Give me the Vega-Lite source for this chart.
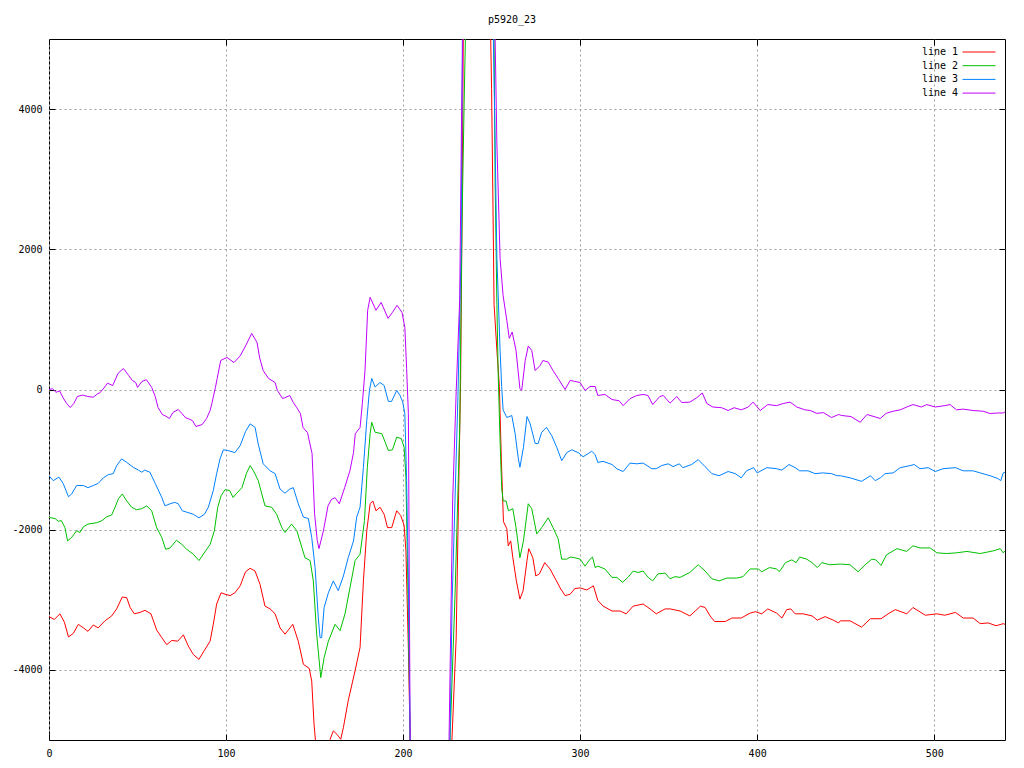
{
"$schema": "https://vega.github.io/schema/vega-lite/v6.json",
"width": 956, "height": 701,
"autosize": "none",
"padding": {"left": 49, "top": 39, "right": 19, "bottom": 28},
"background": "white",
"title": {"text": "p5920_23", "anchor": "middle", "offset": 14, "fontSize": 10, "font": "DejaVu Sans Mono", "fontWeight": "normal", "dx": -15, "color": "black"},
"config": {"view": {"stroke": "black", "strokeWidth": 1}, "font": "DejaVu Sans Mono"},
"datasets": {
"d4": [{"x":0,"y":0},{"x":2,"y":10},{"x":4,"y":-40},{"x":6,"y":-20},{"x":8,"y":-120},{"x":10,"y":-200},{"x":12,"y":-257},{"x":14,"y":-200},{"x":16,"y":-100},{"x":19,"y":-80},{"x":22,"y":-100},{"x":25,"y":-110},{"x":27,"y":-70},{"x":29,"y":-40},{"x":31,"y":20},{"x":33,"y":90},{"x":36,"y":57},{"x":39,"y":230},{"x":42,"y":300},{"x":45,"y":200},{"x":47,"y":130},{"x":49,"y":100},{"x":50,"y":30},{"x":52.5,"y":115},{"x":55,"y":140},{"x":58,"y":30},{"x":60,"y":-100},{"x":61.6,"y":-257},{"x":64,"y":-357},{"x":66,"y":-380},{"x":68,"y":-414},{"x":70,"y":-328},{"x":73,"y":-285},{"x":75,"y":-340},{"x":77,"y":-400},{"x":79,"y":-420},{"x":81,"y":-443},{"x":83,"y":-528},{"x":86.5,"y":-500},{"x":89,"y":-414},{"x":91,"y":-300},{"x":92,"y":-200},{"x":94,"y":30},{"x":95,"y":157},{"x":97,"y":414},{"x":100.5,"y":457},{"x":104.5,"y":385},{"x":108,"y":480},{"x":111,"y":620},{"x":114.5,"y":800},{"x":117.5,"y":670},{"x":119,"y":450},{"x":121,"y":270},{"x":124,"y":157},{"x":127.7,"y":100},{"x":129,"y":-14},{"x":132,"y":-130},{"x":136,"y":-86},{"x":138,"y":-186},{"x":140,"y":-260},{"x":142,"y":-343},{"x":143.5,"y":-543},{"x":146,"y":-614},{"x":148.6,"y":-914},{"x":150,"y":-1770},{"x":151.5,"y":-2150},{"x":152.5,"y":-2270},{"x":155,"y":-2015},{"x":157.6,"y":-1660},{"x":159.5,"y":-1570},{"x":161.6,"y":-1543},{"x":164,"y":-1630},{"x":167,"y":-1400},{"x":170,"y":-1157},{"x":172,"y":-900},{"x":173,"y":-630},{"x":175.7,"y":-543},{"x":177,"y":-200},{"x":178.5,"y":270},{"x":180,"y":1130},{"x":181.4,"y":1315},{"x":184.7,"y":1130},{"x":187.6,"y":1243},{"x":191.5,"y":1015},{"x":194,"y":1100},{"x":196.6,"y":1200},{"x":199.4,"y":1100},{"x":201,"y":886},{"x":202,"y":300},{"x":203,"y":-343},{"x":204,"y":-5000},{"x":205,"y":-8000},{"x":225,"y":-8000},{"x":226,"y":-4950},{"x":228,"y":-1590},{"x":230,"y":-30},{"x":232,"y":1290},{"x":233,"y":3830},{"x":234,"y":5500},{"x":236,"y":8000},{"x":248,"y":8000},{"x":252,"y":5000},{"x":253,"y":3500},{"x":254.8,"y":1870},{"x":256.5,"y":1340},{"x":258.6,"y":985},{"x":260,"y":730},{"x":261.6,"y":820},{"x":263.8,"y":557},{"x":266,"y":14},{"x":267,"y":-14},{"x":269,"y":414},{"x":270.7,"y":620},{"x":272.7,"y":557},{"x":274.6,"y":270},{"x":277.4,"y":343},{"x":279,"y":414},{"x":282,"y":390},{"x":284.7,"y":270},{"x":287.6,"y":157},{"x":291.5,"y":0},{"x":294.4,"y":130},{"x":297,"y":115},{"x":300,"y":100},{"x":302.8,"y":-14},{"x":305.6,"y":43},{"x":308.5,"y":43},{"x":310,"y":-86},{"x":314,"y":-70},{"x":318,"y":-143},{"x":322,"y":-160},{"x":324.3,"y":-230},{"x":328.2,"y":-130},{"x":332,"y":-86},{"x":335.6,"y":-70},{"x":338.4,"y":-86},{"x":341,"y":-215},{"x":345,"y":-100},{"x":347,"y":-86},{"x":350.8,"y":-195},{"x":354.6,"y":-100},{"x":357.4,"y":-186},{"x":362,"y":-180},{"x":366,"y":-115},{"x":369,"y":-50},{"x":371.6,"y":-200},{"x":375,"y":-250},{"x":380,"y":-260},{"x":383.6,"y":-300},{"x":387,"y":-260},{"x":391,"y":-290},{"x":395,"y":-250},{"x":397.7,"y":-180},{"x":401.7,"y":-300},{"x":406,"y":-215},{"x":411,"y":-230},{"x":414.7,"y":-200},{"x":418.6,"y":-180},{"x":422.4,"y":-250},{"x":427,"y":-290},{"x":430,"y":-300},{"x":433.7,"y":-340},{"x":437.5,"y":-330},{"x":442,"y":-400},{"x":446,"y":-357},{"x":447.8,"y":-371},{"x":453,"y":-386},{"x":458.2,"y":-467},{"x":462,"y":-357},{"x":466,"y":-386},{"x":469.5,"y":-414},{"x":472.9,"y":-340},{"x":476.8,"y":-310},{"x":480.8,"y":-290},{"x":484.5,"y":-250},{"x":488,"y":-215},{"x":492.8,"y":-250},{"x":495.8,"y":-215},{"x":500.6,"y":-250},{"x":506,"y":-230},{"x":509,"y":-215},{"x":512.6,"y":-290},{"x":516.4,"y":-280},{"x":522,"y":-300},{"x":527.7,"y":-310},{"x":531.6,"y":-343},{"x":536,"y":-335},{"x":539,"y":-335},{"x":540,"y":-320}],
"d3": [{"x":0,"y":-1230},{"x":2.4,"y":-1300},{"x":5.6,"y":-1250},{"x":8,"y":-1340},{"x":11,"y":-1530},{"x":12.8,"y":-1490},{"x":15.6,"y":-1370},{"x":19.4,"y":-1370},{"x":22,"y":-1400},{"x":25,"y":-1370},{"x":27.8,"y":-1340},{"x":30.7,"y":-1260},{"x":33.5,"y":-1215},{"x":36.3,"y":-1200},{"x":38.2,"y":-1086},{"x":41,"y":-990},{"x":43.9,"y":-1040},{"x":47.6,"y":-1110},{"x":50.5,"y":-1150},{"x":52.4,"y":-1180},{"x":54,"y":-1150},{"x":57,"y":-1180},{"x":60,"y":-1340},{"x":63.7,"y":-1540},{"x":65.5,"y":-1660},{"x":68.4,"y":-1630},{"x":71,"y":-1610},{"x":73,"y":-1630},{"x":75.3,"y":-1730},{"x":77.8,"y":-1750},{"x":81.5,"y":-1780},{"x":84.7,"y":-1830},{"x":87.8,"y":-1780},{"x":90,"y":-1680},{"x":92.8,"y":-1440},{"x":94.7,"y":-1200},{"x":96.6,"y":-990},{"x":98.5,"y":-860},{"x":101,"y":-870},{"x":105,"y":-900},{"x":108,"y":-800},{"x":111,"y":-600},{"x":113.6,"y":-490},{"x":116.4,"y":-540},{"x":118.2,"y":-780},{"x":121,"y":-1060},{"x":124.9,"y":-1160},{"x":127.7,"y":-1200},{"x":130.5,"y":-1420},{"x":133.3,"y":-1480},{"x":136,"y":-1420},{"x":138,"y":-1400},{"x":140.8,"y":-1630},{"x":143.7,"y":-1820},{"x":146.5,"y":-1840},{"x":148.4,"y":-2110},{"x":150.3,"y":-2540},{"x":152.1,"y":-3250},{"x":153.1,"y":-3540},{"x":154,"y":-3540},{"x":155.4,"y":-3110},{"x":157.8,"y":-2900},{"x":160.6,"y":-2730},{"x":163.4,"y":-2870},{"x":166.3,"y":-2660},{"x":169,"y":-2400},{"x":172,"y":-2160},{"x":173.8,"y":-1820},{"x":175.7,"y":-1680},{"x":177.6,"y":-1110},{"x":179.5,"y":-443},{"x":181,"y":-14},{"x":182.3,"y":157},{"x":184.2,"y":35},{"x":187,"y":100},{"x":189.3,"y":57},{"x":191.7,"y":-170},{"x":193.5,"y":-170},{"x":196.4,"y":-14},{"x":198.3,"y":-86},{"x":199.8,"y":-180},{"x":201,"y":-345},{"x":202,"y":-1300},{"x":203,"y":-2730},{"x":204,"y":-5000},{"x":205,"y":-8000},{"x":225,"y":-8000},{"x":226.5,"y":-5000},{"x":227.7,"y":-3030},{"x":231,"y":-86},{"x":232.8,"y":2000},{"x":233.5,"y":5000},{"x":235,"y":8000},{"x":248,"y":8000},{"x":251,"y":5000},{"x":252,"y":3500},{"x":253,"y":1870},{"x":254.8,"y":560},{"x":255.7,"y":43},{"x":256.5,"y":-290},{"x":258.6,"y":-400},{"x":261.4,"y":-371},{"x":263.3,"y":-630},{"x":265,"y":-970},{"x":266,"y":-1110},{"x":268,"y":-825},{"x":270,"y":-386},{"x":271.8,"y":-490},{"x":274.6,"y":-770},{"x":276.3,"y":-770},{"x":278.3,"y":-610},{"x":281,"y":-540},{"x":284,"y":-660},{"x":286.8,"y":-825},{"x":289.6,"y":-1015},{"x":292.5,"y":-900},{"x":295.3,"y":-860},{"x":298.9,"y":-900},{"x":301.7,"y":-960},{"x":304.5,"y":-915},{"x":306.6,"y":-880},{"x":308.5,"y":-930},{"x":310,"y":-1040},{"x":313,"y":-1025},{"x":318,"y":-1070},{"x":320.7,"y":-1130},{"x":324.3,"y":-1170},{"x":328.2,"y":-1050},{"x":332,"y":-1060},{"x":335.6,"y":-1050},{"x":340.5,"y":-1130},{"x":343,"y":-1130},{"x":346,"y":-1086},{"x":349.7,"y":-1060},{"x":352.5,"y":-1100},{"x":356,"y":-1060},{"x":358,"y":-1115},{"x":363,"y":-1070},{"x":366.7,"y":-1000},{"x":370.6,"y":-1100},{"x":374.4,"y":-1200},{"x":378.5,"y":-1230},{"x":383.6,"y":-1170},{"x":387.6,"y":-1200},{"x":391,"y":-1260},{"x":394,"y":-1160},{"x":398,"y":-1115},{"x":400,"y":-1190},{"x":405.5,"y":-1115},{"x":411,"y":-1130},{"x":414,"y":-1150},{"x":418,"y":-1070},{"x":421.5,"y":-1115},{"x":424,"y":-1160},{"x":428.8,"y":-1160},{"x":432.7,"y":-1200},{"x":437,"y":-1190},{"x":442,"y":-1200},{"x":445,"y":-1230},{"x":447,"y":-1230},{"x":452.5,"y":-1260},{"x":459,"y":-1310},{"x":464,"y":-1230},{"x":466.7,"y":-1300},{"x":469.6,"y":-1260},{"x":472.3,"y":-1200},{"x":476.8,"y":-1190},{"x":480.8,"y":-1115},{"x":486.4,"y":-1086},{"x":488.7,"y":-1070},{"x":492,"y":-1130},{"x":496.6,"y":-1115},{"x":500.6,"y":-1170},{"x":505,"y":-1130},{"x":512,"y":-1115},{"x":516.4,"y":-1160},{"x":522,"y":-1160},{"x":526,"y":-1190},{"x":531.6,"y":-1230},{"x":536,"y":-1270},{"x":537.6,"y":-1300},{"x":539,"y":-1190},{"x":540,"y":-1180}],
"d2": [{"x":0,"y":-1825},{"x":3.4,"y":-1840},{"x":5.3,"y":-1880},{"x":7,"y":-1870},{"x":9,"y":-1970},{"x":10.5,"y":-2160},{"x":12.8,"y":-2110},{"x":15.6,"y":-2015},{"x":17.5,"y":-2040},{"x":19.4,"y":-1960},{"x":22,"y":-1920},{"x":27,"y":-1900},{"x":30,"y":-1870},{"x":32.6,"y":-1815},{"x":35.4,"y":-1790},{"x":37.3,"y":-1680},{"x":39.2,"y":-1560},{"x":41.4,"y":-1490},{"x":43.9,"y":-1590},{"x":46.7,"y":-1680},{"x":49.5,"y":-1715},{"x":52.4,"y":-1700},{"x":55.2,"y":-1660},{"x":58,"y":-1730},{"x":60.8,"y":-1970},{"x":63.7,"y":-2110},{"x":65.9,"y":-2280},{"x":68.4,"y":-2260},{"x":72,"y":-2150},{"x":75,"y":-2210},{"x":77.8,"y":-2280},{"x":81.5,"y":-2350},{"x":84.7,"y":-2440},{"x":88,"y":-2320},{"x":91,"y":-2210},{"x":93.4,"y":-2015},{"x":95.3,"y":-1680},{"x":97.2,"y":-1515},{"x":99.4,"y":-1430},{"x":102,"y":-1440},{"x":104,"y":-1540},{"x":106,"y":-1480},{"x":109,"y":-1400},{"x":111.5,"y":-1200},{"x":113.6,"y":-1086},{"x":115.5,"y":-1160},{"x":118.2,"y":-1300},{"x":122,"y":-1660},{"x":125.8,"y":-1680},{"x":128.6,"y":-1780},{"x":131.5,"y":-1970},{"x":133.3,"y":-2040},{"x":137,"y":-1920},{"x":140,"y":-2015},{"x":142.8,"y":-2250},{"x":144.6,"y":-2400},{"x":147.5,"y":-2440},{"x":149.3,"y":-2730},{"x":151.2,"y":-3490},{"x":153.5,"y":-4110},{"x":155.4,"y":-3825},{"x":157.8,"y":-3590},{"x":161.6,"y":-3350},{"x":164.4,"y":-3440},{"x":167.2,"y":-3200},{"x":170,"y":-2830},{"x":172.9,"y":-2440},{"x":175.7,"y":-2350},{"x":178.2,"y":-1870},{"x":179.8,"y":-1110},{"x":181.4,"y":-630},{"x":182.3,"y":-467},{"x":184.2,"y":-610},{"x":188,"y":-630},{"x":191.7,"y":-870},{"x":194,"y":-860},{"x":196.4,"y":-680},{"x":199,"y":-700},{"x":200.6,"y":-825},{"x":201.6,"y":-1250},{"x":203,"y":-3200},{"x":204,"y":-5000},{"x":205,"y":-8000},{"x":225,"y":-8000},{"x":226.5,"y":-5000},{"x":229.4,"y":-2900},{"x":232,"y":-540},{"x":233.3,"y":2390},{"x":234.5,"y":4090},{"x":235.2,"y":5000},{"x":237,"y":8000},{"x":248,"y":8000},{"x":251.4,"y":5000},{"x":252,"y":2970},{"x":253,"y":1215},{"x":253.7,"y":240},{"x":254.8,"y":-740},{"x":255.7,"y":-1400},{"x":256.5,"y":-1590},{"x":258.2,"y":-1590},{"x":259.5,"y":-1730},{"x":262,"y":-1700},{"x":263.8,"y":-1970},{"x":266,"y":-2400},{"x":268,"y":-2160},{"x":270.7,"y":-1630},{"x":272.7,"y":-1700},{"x":275.5,"y":-2060},{"x":278.3,"y":-1970},{"x":282,"y":-1830},{"x":284.7,"y":-1970},{"x":287.6,"y":-2130},{"x":289.6,"y":-2420},{"x":292.5,"y":-2420},{"x":294.4,"y":-2390},{"x":297,"y":-2400},{"x":300,"y":-2420},{"x":302.8,"y":-2520},{"x":305.6,"y":-2420},{"x":307,"y":-2390},{"x":308.5,"y":-2540},{"x":310,"y":-2520},{"x":314,"y":-2560},{"x":318,"y":-2680},{"x":320.7,"y":-2680},{"x":324,"y":-2750},{"x":327,"y":-2680},{"x":330,"y":-2590},{"x":332.7,"y":-2610},{"x":335.6,"y":-2590},{"x":338.4,"y":-2680},{"x":341,"y":-2730},{"x":344,"y":-2630},{"x":348,"y":-2620},{"x":350.8,"y":-2700},{"x":353.6,"y":-2670},{"x":356.5,"y":-2680},{"x":362,"y":-2610},{"x":366.7,"y":-2500},{"x":370.6,"y":-2590},{"x":374.4,"y":-2700},{"x":378.5,"y":-2730},{"x":382.9,"y":-2690},{"x":388.5,"y":-2690},{"x":392,"y":-2670},{"x":396,"y":-2560},{"x":400.6,"y":-2560},{"x":402.6,"y":-2600},{"x":407,"y":-2540},{"x":411,"y":-2560},{"x":412.5,"y":-2600},{"x":416,"y":-2470},{"x":419.6,"y":-2430},{"x":422,"y":-2470},{"x":424,"y":-2390},{"x":428,"y":-2420},{"x":431,"y":-2470},{"x":434,"y":-2540},{"x":436.5,"y":-2470},{"x":441,"y":-2500},{"x":447,"y":-2490},{"x":452.5,"y":-2500},{"x":457,"y":-2600},{"x":461,"y":-2500},{"x":464.8,"y":-2420},{"x":467,"y":-2430},{"x":470,"y":-2510},{"x":473,"y":-2360},{"x":475,"y":-2330},{"x":479,"y":-2270},{"x":484.5,"y":-2310},{"x":488,"y":-2230},{"x":492,"y":-2260},{"x":497.7,"y":-2260},{"x":501.5,"y":-2330},{"x":507,"y":-2340},{"x":512.6,"y":-2330},{"x":518.5,"y":-2310},{"x":526,"y":-2340},{"x":533.7,"y":-2300},{"x":537.3,"y":-2270},{"x":539,"y":-2330},{"x":540,"y":-2300}],
"d1": [{"x":0,"y":-3240},{"x":3,"y":-3280},{"x":6.2,"y":-3200},{"x":8.7,"y":-3320},{"x":11,"y":-3530},{"x":13.7,"y":-3480},{"x":16.6,"y":-3350},{"x":19.4,"y":-3400},{"x":22,"y":-3450},{"x":25,"y":-3360},{"x":27.8,"y":-3400},{"x":31.6,"y":-3300},{"x":35.4,"y":-3230},{"x":38.2,"y":-3130},{"x":41.4,"y":-2960},{"x":43.9,"y":-2970},{"x":45.8,"y":-3110},{"x":48.2,"y":-3200},{"x":51.4,"y":-3180},{"x":54.2,"y":-3150},{"x":57.6,"y":-3200},{"x":60.8,"y":-3430},{"x":63.7,"y":-3540},{"x":66.5,"y":-3640},{"x":69.3,"y":-3580},{"x":72.7,"y":-3590},{"x":75.9,"y":-3500},{"x":78.7,"y":-3660},{"x":81.5,"y":-3780},{"x":84.7,"y":-3850},{"x":87.8,"y":-3720},{"x":91,"y":-3590},{"x":92.8,"y":-3350},{"x":94.7,"y":-3060},{"x":97.2,"y":-2900},{"x":99.4,"y":-2920},{"x":102.3,"y":-2940},{"x":105,"y":-2900},{"x":108,"y":-2800},{"x":111,"y":-2600},{"x":113.6,"y":-2550},{"x":116.4,"y":-2590},{"x":119.2,"y":-2780},{"x":122,"y":-3090},{"x":124.9,"y":-3130},{"x":127.7,"y":-3200},{"x":130.5,"y":-3400},{"x":133.3,"y":-3490},{"x":137.7,"y":-3350},{"x":140.8,"y":-3590},{"x":143.7,"y":-3920},{"x":147,"y":-3980},{"x":148.4,"y":-4160},{"x":149.7,"y":-4770},{"x":150.5,"y":-5000},{"x":152,"y":-6000},{"x":157,"y":-6000},{"x":158.8,"y":-4990},{"x":160.6,"y":-4870},{"x":162.7,"y":-4920},{"x":164.8,"y":-4990},{"x":166.3,"y":-4820},{"x":169,"y":-4440},{"x":172.9,"y":-4010},{"x":175.7,"y":-3680},{"x":177.6,"y":-2730},{"x":179.5,"y":-2015},{"x":181.4,"y":-1630},{"x":182.9,"y":-1590},{"x":184.7,"y":-1730},{"x":187,"y":-1680},{"x":189.3,"y":-1780},{"x":191.2,"y":-1970},{"x":193.6,"y":-1970},{"x":196.4,"y":-1730},{"x":198.7,"y":-1800},{"x":200.6,"y":-1940},{"x":201.6,"y":-2300},{"x":203,"y":-3700},{"x":204,"y":-5000},{"x":205,"y":-8000},{"x":226,"y":-8000},{"x":227.6,"y":-5000},{"x":230,"y":-3540},{"x":231.7,"y":-1000},{"x":232.5,"y":114},{"x":233.3,"y":2460},{"x":234,"y":5000},{"x":236,"y":8000},{"x":247,"y":8000},{"x":249.5,"y":5000},{"x":250,"y":4290},{"x":250.7,"y":2790},{"x":251.4,"y":1215},{"x":253,"y":560},{"x":254.4,"y":43},{"x":255.5,"y":-1000},{"x":256.7,"y":-1886},{"x":258.6,"y":-1986},{"x":259.4,"y":-2230},{"x":260.8,"y":-2160},{"x":262,"y":-2400},{"x":264,"y":-2730},{"x":266,"y":-2990},{"x":267.8,"y":-2870},{"x":270,"y":-2440},{"x":271,"y":-2270},{"x":273.3,"y":-2400},{"x":275,"y":-2660},{"x":277,"y":-2630},{"x":280,"y":-2470},{"x":283,"y":-2560},{"x":286,"y":-2700},{"x":288.7,"y":-2830},{"x":291.5,"y":-2940},{"x":294.4,"y":-2920},{"x":297,"y":-2840},{"x":300,"y":-2830},{"x":303.8,"y":-2860},{"x":307.5,"y":-2800},{"x":310,"y":-3010},{"x":313,"y":-3090},{"x":318,"y":-3160},{"x":322.6,"y":-3160},{"x":326,"y":-3200},{"x":330,"y":-3090},{"x":335.6,"y":-3060},{"x":339.5,"y":-3130},{"x":343,"y":-3200},{"x":348,"y":-3130},{"x":350.8,"y":-3130},{"x":356.5,"y":-3160},{"x":362,"y":-3230},{"x":365,"y":-3160},{"x":368,"y":-3090},{"x":370.6,"y":-3110},{"x":373.4,"y":-3230},{"x":376,"y":-3310},{"x":382,"y":-3310},{"x":385.7,"y":-3260},{"x":391,"y":-3260},{"x":396,"y":-3190},{"x":399,"y":-3170},{"x":402.6,"y":-3200},{"x":406,"y":-3130},{"x":411,"y":-3190},{"x":414,"y":-3260},{"x":416.7,"y":-3140},{"x":419,"y":-3130},{"x":421.5,"y":-3200},{"x":426,"y":-3200},{"x":431,"y":-3230},{"x":434,"y":-3290},{"x":438.4,"y":-3240},{"x":443,"y":-3290},{"x":446,"y":-3330},{"x":447,"y":-3300},{"x":452.5,"y":-3300},{"x":459,"y":-3390},{"x":464,"y":-3270},{"x":470,"y":-3270},{"x":474,"y":-3200},{"x":478,"y":-3140},{"x":484.5,"y":-3200},{"x":488,"y":-3110},{"x":495,"y":-3220},{"x":501.5,"y":-3200},{"x":506,"y":-3220},{"x":512,"y":-3180},{"x":516.4,"y":-3260},{"x":522,"y":-3260},{"x":526,"y":-3340},{"x":530.5,"y":-3330},{"x":535,"y":-3370},{"x":539,"y":-3340},{"x":540,"y":-3350}]
},
"layer": [
{
"encoding": {
"x": {"field": "x", "type": "quantitative", "scale": {"domain": [0, 540], "nice": false, "zero": false},
"axis": {"orient": "bottom", "title": null, "values": [0, 100, 200, 300, 400, 500], "labelExpr": "'' + datum.value", "grid": true, "gridColor": "#a0a0a0", "gridDash": [2, 3], "gridWidth": 1, "domain": false, "tickColor": "black", "tickSize": -6, "labelPadding": 14, "labelFont": "DejaVu Sans Mono", "labelFontSize": 10, "labelColor": "black", "labelFlush": false}},
"y": {"field": "y", "type": "quantitative", "scale": {"domain": [-5000, 5000], "nice": false, "zero": false},
"axis": {"orient": "left", "title": null, "values": [-4000, -2000, 0, 2000, 4000], "labelExpr": "'' + datum.value", "grid": true, "gridColor": "#a0a0a0", "gridDash": [2, 3], "gridWidth": 1, "domain": false, "tickColor": "black", "tickSize": -6, "labelPadding": 13, "labelFont": "DejaVu Sans Mono", "labelFontSize": 10, "labelColor": "black", "labelFlush": false}}
},
"layer": [
{"data": {"name": "d1"}, "mark": {"type": "line", "strokeWidth": 1, "clip": true},
 "encoding": {"color": {"datum": "line 1", "type": "nominal", "scale": {"domain": ["line 1", "line 2", "line 3", "line 4"], "range": ["#ff0000", "#00c000", "#0080ff", "#c000ff"]},
 "legend": {"orient": "none", "legendX": 924, "legendY": 7, "title": null, "symbolType": "M-3,0H3", "symbolSize": 121, "symbolStrokeWidth": 1, "labelFont": "DejaVu Sans Mono", "labelFontSize": 10, "labelColor": "black", "labelAlign": "right", "labelOffset": -27, "rowPadding": 2.7, "padding": 0}}}},
{"data": {"name": "d2"}, "mark": {"type": "line", "strokeWidth": 1, "clip": true},
 "encoding": {"color": {"datum": "line 2", "type": "nominal"}}},
{"data": {"name": "d3"}, "mark": {"type": "line", "strokeWidth": 1, "clip": true},
 "encoding": {"color": {"datum": "line 3", "type": "nominal"}}},
{"data": {"name": "d4"}, "mark": {"type": "line", "strokeWidth": 1, "clip": true},
 "encoding": {"color": {"datum": "line 4", "type": "nominal"}}}
]
},
{
"data": {"name": "d1"},
"mark": {"type": "line", "strokeOpacity": 0, "clip": true},
"encoding": {
"x": {"field": "x", "type": "quantitative", "scale": {"domain": [0, 540], "nice": false, "zero": false},
"axis": {"orient": "top", "title": null, "values": [0, 100, 200, 300, 400, 500], "grid": false, "domain": false, "labels": false, "tickColor": "black", "tickSize": -6}},
"y": {"field": "y", "type": "quantitative", "scale": {"domain": [-5000, 5000], "nice": false, "zero": false},
"axis": {"orient": "right", "title": null, "values": [-4000, -2000, 0, 2000, 4000], "grid": false, "domain": false, "labels": false, "tickColor": "black", "tickSize": -6}}
}
}
],
"resolve": {"axis": {"x": "independent", "y": "independent"}}
}
